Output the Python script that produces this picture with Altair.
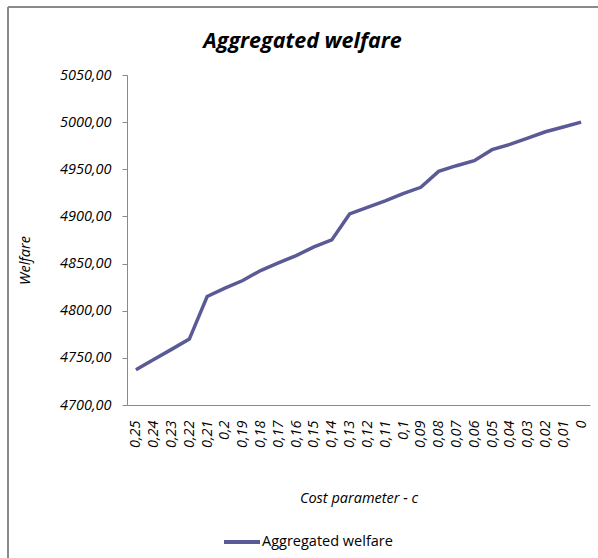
import altair as alt
import pandas as pd

# Cost parameter values (as shown on the axis) and the aggregated welfare at each
cost_labels = ["0,25", "0,24", "0,23", "0,22", "0,21", "0,2", "0,19", "0,18", "0,17",
               "0,16", "0,15", "0,14", "0,13", "0,12", "0,11", "0,1", "0,09", "0,08",
               "0,07", "0,06", "0,05", "0,04", "0,03", "0,02", "0,01", "0"]
welfare = [4737.4, 4748.2, 4759.0, 4769.9, 4815.1, 4823.9, 4832.0, 4842.6, 4850.7,
           4858.5, 4867.7, 4875.1, 4902.6, 4909.7, 4916.4, 4924.2, 4930.9, 4947.8,
           4953.8, 4959.1, 4970.8, 4976.4, 4983.1, 4989.8, 4994.8, 5000.0]
series_name = "Aggregated welfare"

df = pd.DataFrame({"c": cost_labels, "w": welfare, "series": series_name})

FONT = "Open Sans"
LINE = "#5a5a96"
GREY = "#8a8a8a"

line = alt.Chart(df).mark_line(strokeWidth=3.5).encode(
    x=alt.X("c:O", sort=cost_labels,
            scale=alt.Scale(type="point", padding=0.5),
            axis=alt.Axis(title="Cost parameter - c", labelAngle=270, labelAlign="right",
                          labelBaseline="middle", labelPadding=15, labelFontSize=14.5,
                          labelFontStyle="italic", labelFont=FONT, ticks=False,
                          domainColor=GREY, titleFont=FONT, titleFontSize=14.5,
                          titleFontStyle="italic", titleFontWeight="normal",
                          titlePadding=44, labelColor="#000", titleColor="#000")),
    y=alt.Y("w:Q", scale=alt.Scale(domain=[4700, 5050], nice=False, zero=False),
            axis=alt.Axis(title="Welfare", values=[4700, 4750, 4800, 4850, 4900, 4950, 5000, 5050],
                          labelExpr="replace(format(datum.value, '.2f'), '.', ',')",
                          labelFont=FONT, labelFontSize=14.5, labelFontStyle="italic",
                          labelPadding=11, tickSize=5, tickColor=GREY, domainColor=GREY,
                          grid=False, titleFont=FONT, titleFontSize=14.5, titleFontStyle="italic",
                          titleFontWeight="normal", titleX=-102, titleY=185, titleAngle=270,
                          titleAlign="center", titleBaseline="middle",
                          labelColor="#000", titleColor="#000")),
    color=alt.Color("series:N", scale=alt.Scale(range=[LINE]),
                    legend=alt.Legend(title=None, orient="none", legendX=95, legendY=447,
                                      symbolType="stroke", symbolSize=1296,
                                      symbolStrokeWidth=4, labelFont=FONT,
                                      labelFontSize=14.5, labelOffset=0, padding=0,
                                      labelColor="#000")),
)

# Outer chart frame (left and top edges)
frame_left = alt.Chart(df).mark_rule(color=GREY, strokeWidth=1.5).encode(
    x=alt.value(-119), y=alt.value(-68), y2=alt.value(500))
frame_top = alt.Chart(df).mark_rule(color=GREY, strokeWidth=1.5).encode(
    x=alt.value(-119), x2=alt.value(480), y=alt.value(-68))

chart = alt.layer(frame_left, frame_top, line).properties(
    width=463, height=330,
    padding={"left": 127, "top": 75, "right": 8, "bottom": 153},
    autosize=alt.AutoSizeParams(type="none"),
    title=alt.TitleParams("Aggregated welfare", font=FONT, fontSize=21.5, fontWeight="bold",
                          fontStyle="italic", anchor="middle", frame="group", offset=0,
                          dy=46, dx=-56, color="#000"),
).configure_view(stroke=None)

chart.save("out.html", embed_options={"renderer": "svg", "actions": False})
